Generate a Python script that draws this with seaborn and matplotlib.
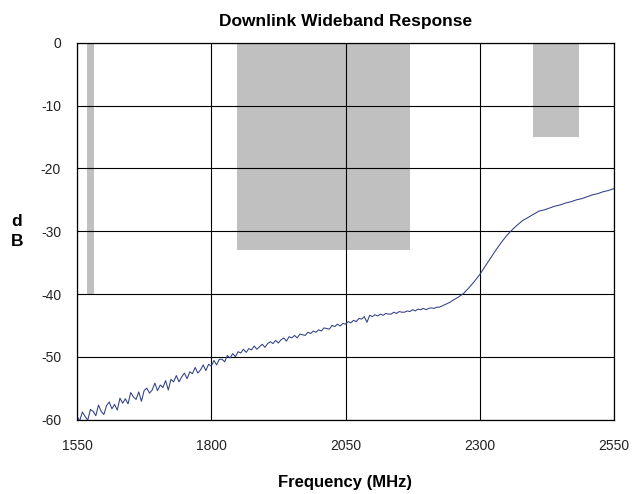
import numpy as np
import pandas as pd
import matplotlib
matplotlib.use("Agg")
import matplotlib.pyplot as plt
import seaborn as sns

# measured response, dB vs MHz (5 MHz steps up to 2250, then 10 MHz)
freq_fine = list(range(1550, 2255, 5))
db_fine = [
    -59.5, -60.2, -58.8, -59.5, -60.1, -58.4, -58.7, -59.4, -57.7, -58.7,
    -59.2, -57.8, -57.2, -58.3, -57.6, -58.5, -56.6, -57.4, -56.7, -57.5,
    -55.7, -56.4, -56.8, -55.6, -57.1, -55.4, -55.0, -55.8, -55.3, -54.2,
    -55.4, -54.5, -54.9, -53.8, -55.3, -53.6, -54.0, -53.0, -54.0, -53.2,
    -52.6, -53.5, -52.4, -52.7, -51.7, -52.6, -52.1, -51.3, -52.2, -51.2,
    -51.5, -50.6, -51.3, -50.4, -50.4, -50.8, -49.8, -50.2, -49.5, -50.0,
    -49.2, -49.4, -48.8, -49.3, -48.7, -48.9, -48.3, -48.8, -48.4, -48.0,
    -48.5, -47.9, -47.6, -47.9, -47.4, -47.8, -47.3, -47.0, -47.5, -46.8,
    -47.0, -46.6, -47.0, -46.4, -46.5, -46.6, -46.1, -46.3, -45.9, -46.1,
    -45.7, -45.9, -45.4, -45.5, -45.6, -45.0, -45.2, -44.8, -45.1, -44.7,
    -44.8, -44.4, -44.6, -44.2, -44.4, -43.9, -44.0, -43.6, -44.5, -43.4,
    -43.6, -43.3, -43.5, -43.2, -43.4, -43.1, -43.2, -43.2, -42.9, -43.1,
    -42.8, -42.9, -42.9, -42.7, -42.8, -42.5, -42.7, -42.4, -42.5, -42.3,
    -42.5, -42.3, -42.2, -42.3, -42.1, -42.1, -41.9, -41.7, -41.5, -41.3,
    -41.0,
]
freq_coarse = list(range(2260, 2560, 10))
db_coarse = [
    -40.5, -39.9, -39.0, -38.0, -36.9, -35.6, -34.3, -33.0, -31.8, -30.7,
    -29.8, -29.0, -28.3, -27.8, -27.3, -26.8, -26.6, -26.3, -26.0, -25.8,
    -25.5, -25.3, -25.0, -24.8, -24.5, -24.2, -24.0, -23.7, -23.5, -23.2,
]

# shaded bands: start/stop MHz and lower limit in dB
band_start = [1568, 1848, 2400]
band_stop = [1582, 2170, 2485]
band_floor = [-40, -33, -15]

df = pd.DataFrame({"freq": freq_fine + freq_coarse, "db": db_fine + db_coarse})

sns.set_style("white")
plt.rcParams["font.family"] = ["Liberation Sans", "DejaVu Sans"]
plt.rcParams["axes.unicode_minus"] = False

fig = plt.figure(figsize=(6.34, 4.94), dpi=100)
ax = fig.add_axes([77 / 634, 1 - 419.5 / 494, 537 / 634, 376.5 / 494])

widths = [b - a for a, b in zip(band_start, band_stop)]
ax.bar(band_start, [-f for f in band_floor], bottom=band_floor, width=widths,
       align="edge", color="#c0c0c0", linewidth=0)

sns.lineplot(data=df, x="freq", y="db", ax=ax, color="#2f3f86", linewidth=0.75)

ax.set_axisbelow("line")
ax.set_xlim(1550, 2550)
ax.set_ylim(-60, 0)
ax.set_xticks([1550, 1800, 2050, 2300, 2550])
ax.set_yticks(range(-60, 1, 10))
ax.grid(True, color="black", linewidth=0.8)
for s in ax.spines.values():
    s.set_color("black")
    s.set_linewidth(0.9)
ax.tick_params(length=0, labelsize=10, labelcolor="#222222")
ax.tick_params(axis="y", pad=11.5)
ax.tick_params(axis="x", pad=14)

ax.set_title("Downlink Wideband Response", fontsize=12.5, fontweight="bold",
             pad=12, color="black")
ax.set_xlabel("Frequency (MHz)", fontsize=12, fontweight="bold", color="black")
ax.xaxis.set_label_coords(0.5, -0.148)
ax.set_ylabel("d\nB", fontsize=12.5, fontweight="bold", rotation=0, va="center",
              ha="center", linespacing=1.4, color="black")
ax.yaxis.set_label_coords(-0.112, 0.5)

fig.savefig("out.png", dpi=100)
